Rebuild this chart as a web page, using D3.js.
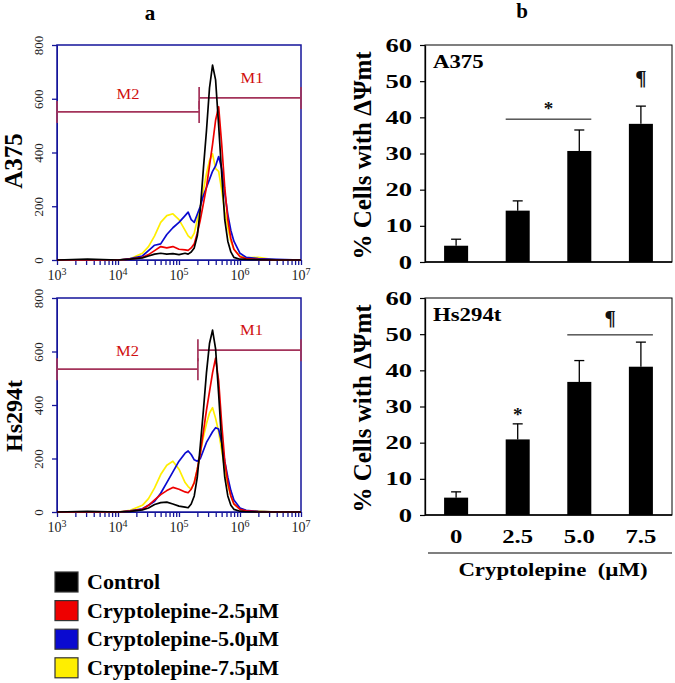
<!DOCTYPE html>
<html><head><meta charset="utf-8">
<script src="https://cdn.jsdelivr.net/npm/d3@7"></script>
<style>body{margin:0;background:#fff}svg{display:block}text{font-family:"Liberation Serif","Times New Roman",Times,serif}</style>
</head><body>
<svg id="c" width="675" height="683"></svg>
<script>
// ---------- DATA ----------
// histogram bins: log10 of fluorescence intensity
const binLog = [3.0,3.5,4.0,4.2,4.4,4.5,4.6,4.7,4.8,4.9,5.0,5.1,5.15,5.2,5.25,5.3,5.35,5.4,5.45,5.5,5.55,5.6,5.65,5.7,5.75,5.8,5.85,5.9,6.0,6.1,6.3,6.6,7.0];
const a375Control = [0,3,0,3,8,15,22,25,22,24,20,25,22,30,45,90,190,340,480,640,725,670,500,320,150,70,30,10,3,2,1,0,0];
const a375Cryp25  = [0,0,0,3,10,20,35,50,45,50,40,38,36,45,60,100,150,210,270,350,430,520,570,430,270,150,80,40,12,5,2,0,0];
const a375Cryp50  = [0,0,0,5,15,35,55,60,95,120,140,165,178,150,140,170,200,240,270,300,330,350,385,340,250,170,110,70,25,10,5,2,0];
const a375Cryp75  = [0,0,0,5,25,50,90,140,165,172,150,110,90,80,100,150,200,260,320,370,395,340,330,260,180,120,70,40,15,8,10,0,0];
const hsControl   = [0,2,0,2,8,15,28,35,37,30,22,18,16,30,60,130,250,380,520,630,680,610,440,260,130,60,25,10,3,1,0,0,0];
const hsCryp25    = [0,0,0,3,10,25,45,65,80,92,85,75,72,85,110,160,220,300,380,450,520,575,490,330,190,110,60,30,10,4,1,0,0];
const hsCryp50    = [0,0,0,4,12,25,40,70,110,150,190,220,228,215,195,190,200,230,260,280,300,315,310,260,190,130,80,45,15,6,2,0,0];
const hsCryp75    = [0,0,0,6,25,50,90,140,175,190,160,110,95,85,110,160,220,280,330,370,390,350,300,230,160,100,60,30,12,5,3,0,0];
const histYTicks = [0,200,400,600,800];
const histXDecades = [3,4,5,6,7];
// gates (M2 / M1) : [start log10, end log10, level]
const a375Gates = [{name:"M2", from:3.0, to:5.33, level:551},{name:"M1", from:5.33, to:7.0, level:603}];
const hsGates   = [{name:"M2", from:3.0, to:5.31, level:534},{name:"M1", from:5.31, to:7.0, level:605}];

const seriesNames = ["Control","Cryptolepine-2.5\u00b5M","Cryptolepine-5.0\u00b5M","Cryptolepine-7.5\u00b5M"];
const seriesColors = ["#000000","#ee0000","#0a0ad0","#ffee00"];

// bar chart
const doses = ["0","2.5","5.0","7.5"];
const a375Mean = [4.5,14.2,30.7,38.2];
const a375Err  = [1.8,2.7,5.8,4.9];
const hsMean   = [4.8,20.9,36.8,41.0];
const hsErr    = [1.6,4.3,5.9,6.8];
const barYTicks = [0,10,20,30,40,50,60];
const a375Sig = [{from:"2.5", to:"5.0", line:39.5, mark:"*", markAt:42.5},{from:"7.5", to:"7.5", line:null, mark:"\u00b6", markAt:51}];
const hsSig   = [{from:"2.5", to:"2.5", line:null, mark:"*", markAt:27.8},{from:"5.0", to:"7.5", line:49.8, mark:"\u00b6", markAt:54.5}];

// ---------- DRAW ----------
const svg = d3.select("#c");
const NAVY = "#15159a";
const GATE = "#a3335a";

function stretch(sel, k){ sel.each(function(){ const w=this.getComputedTextLength(); d3.select(this).attr("textLength", w*k).attr("lengthAdjust","spacingAndGlyphs"); }); }

svg.append("text").attr("x",150).attr("y",20).attr("text-anchor","middle")
  .style("font-weight","bold").style("font-size","21px").text("a");
svg.append("text").attr("x",522).attr("y",18).attr("text-anchor","middle")
  .style("font-weight","bold").style("font-size","21px").text("b");

function histogram(top, bottom, series, gates, label, labelY, labelSize){
  const x = d3.scaleLog().domain([1e3,1e7]).range([57,301]);
  const y = d3.scaleLinear().domain([0,800]).range([bottom, top]);
  const g = svg.append("g");
  const tv = [];
  for (let d=3; d<7; d++) for (let k=1; k<10; k++) tv.push(k*Math.pow(10,d));
  tv.push(1e7);
  const xa = g.append("g").attr("transform",`translate(0,${bottom})`)
    .call(d3.axisBottom(x).tickValues(tv).tickFormat("").tickSize(5).tickSizeOuter(0));
  xa.selectAll("line").attr("stroke",NAVY).attr("stroke-width",1.3);
  xa.select(".domain").attr("stroke",NAVY);
  histXDecades.forEach(d=>{
    const t = g.append("text").attr("x",x(Math.pow(10,d))).attr("y",bottom+20).attr("text-anchor","middle")
      .style("font-size","14px").attr("fill","#222");
    t.append("tspan").text("10");
    t.append("tspan").attr("dy",-5).style("font-size","10px").text(String(d));
  });
  const ya = g.append("g").attr("transform","translate(57,0)")
    .call(d3.axisLeft(y).tickValues(histYTicks).tickSize(5).tickSizeOuter(0));
  ya.attr("font-family",null);
  ya.selectAll("line").attr("stroke",NAVY).attr("stroke-width",1.3);
  ya.select(".domain").attr("stroke",NAVY);
  ya.selectAll("text").attr("transform","rotate(-90)").attr("x",0).attr("y",-14).attr("dy",0)
    .style("text-anchor","middle").style("font-size","13px").attr("fill","#222");
  g.append("rect").attr("x",57).attr("y",top).attr("width",301-57).attr("height",bottom-top)
    .attr("fill","none").attr("stroke",NAVY).attr("stroke-width",1.5);
  gates.forEach(gt=>{
    const x0=x(Math.pow(10,gt.from)), x1=x(Math.pow(10,gt.to)), yy=y(gt.level);
    g.append("line").attr("x1",x0).attr("x2",x1).attr("y1",yy).attr("y2",yy).attr("stroke",GATE).attr("stroke-width",1.7);
    [x0,x1].forEach(xx=>g.append("line").attr("x1",xx).attr("x2",xx).attr("y1",yy-11).attr("y2",yy+11).attr("stroke",GATE).attr("stroke-width",1.7));
    const t=g.append("text").attr("x",(x0+x1)/2 + (gt.name==="M1"?2:0)).attr("y",yy-(gt.name==="M1"?15:13)).attr("text-anchor","middle")
      .style("font-size","15px").attr("fill","#d01010").text(gt.name);
    stretch(t,1.1);
  });
  const line = d3.line().x((d,i)=>x(Math.pow(10,binLog[i]))).y(d=>y(d));
  [3,2,1,0].forEach(si=>{
    g.append("path").datum(series[si]).attr("d",line).attr("fill","none")
      .attr("stroke",seriesColors[si]).attr("stroke-width",1.7).attr("stroke-linejoin","round");
  });
  svg.append("text").attr("transform",`translate(22,${labelY}) rotate(-90)`).attr("text-anchor","middle")
    .style("font-weight","bold").style("font-size",labelSize+"px").text(label);
}
histogram(45,260,[a375Control,a375Cryp25,a375Cryp50,a375Cryp75],a375Gates,"A375",161,25);
histogram(298,512,[hsControl,hsCryp25,hsCryp50,hsCryp75],hsGates,"Hs294t",416,24);

function bars(top, bottom, means, errs, sig, label, showX){
  const x = d3.scaleBand().domain(doses).range([425,672]).paddingInner(0.61).paddingOuter(0.31);
  const y = d3.scaleLinear().domain([0,60]).range([bottom, top]);
  const g = svg.append("g");
  g.append("rect").attr("x",425).attr("y",top).attr("width",672-425).attr("height",bottom-top)
    .attr("fill","none").attr("stroke","#000").attr("stroke-width",1);
  const ya = g.append("g").attr("transform","translate(425,0)")
    .call(d3.axisLeft(y).tickValues(barYTicks).tickSize(5).tickSizeOuter(0));
  ya.attr("font-family",null);
  ya.select(".domain").attr("stroke","#000").attr("stroke-width",1.3);
  ya.selectAll("line").attr("stroke","#000").attr("stroke-width",1.2);
  ya.selectAll("text").attr("x",-13).style("font-weight","bold").style("font-size","19px").attr("fill","#000");
  stretch(ya.selectAll("text"),1.4);
  g.append("line").attr("x1",425).attr("x2",672).attr("y1",bottom).attr("y2",bottom).attr("stroke","#000").attr("stroke-width",1.3);
  doses.forEach((d,i)=>{
    const cx = x(d)+x.bandwidth()/2;
    g.append("line").attr("x1",cx).attr("x2",cx).attr("y1",y(means[i])).attr("y2",y(means[i]+errs[i])).attr("stroke","#000").attr("stroke-width",1.3);
    g.append("line").attr("x1",cx-5).attr("x2",cx+5).attr("y1",y(means[i]+errs[i])).attr("y2",y(means[i]+errs[i])).attr("stroke","#000").attr("stroke-width",1.3);
  });
  g.selectAll("rect.bar").data(means).join("rect").attr("class","bar")
    .attr("x",(d,i)=>x(doses[i])).attr("width",x.bandwidth())
    .attr("y",d=>y(d)).attr("height",d=>bottom-y(d)).attr("fill","#000");
  sig.forEach(s=>{
    const x0 = x(s.from), x1 = x(s.to)+x.bandwidth();
    if (s.line!==null) g.append("line").attr("x1",x0).attr("x2",x1).attr("y1",y(s.line)).attr("y2",y(s.line)).attr("stroke","#000").attr("stroke-width",1);
    g.append("text").attr("x",(x0+x1)/2).attr("y",y(s.markAt)).attr("dy","0.35em").attr("text-anchor","middle")
      .style("font-weight","bold").style("font-size", s.mark==="*"?"19px":"21px").attr("fill","#111").text(s.mark);
  });
  const lt = g.append("text").attr("x",433).attr("y",top+23).style("font-weight","bold").style("font-size","19px").text(label);
  stretch(lt,1.2);
  svg.append("text").attr("transform",`translate(371,${(top+bottom)/2+2}) rotate(-90)`).attr("text-anchor","middle")
    .style("font-weight","bold").style("font-size","25px").text("% Cells with \u0394\u03a8mt");
  if (showX){
    const xt = g.selectAll("text.xl").data(doses).join("text").attr("class","xl")
      .attr("x",d=>x(d)+x.bandwidth()/2).attr("y",bottom+28).attr("text-anchor","middle")
      .style("font-weight","bold").style("font-size","19px").text(d=>d);
    stretch(xt,1.3);
    g.append("line").attr("x1",428).attr("x2",672).attr("y1",bottom+38).attr("y2",bottom+38).attr("stroke","#000").attr("stroke-width",1.2);
    const ct = g.append("text").attr("x",553).attr("y",bottom+61).attr("text-anchor","middle")
      .style("font-weight","bold").style("font-size","19px").style("white-space","pre").text("Cryptolepine  (\u00b5M)");
    stretch(ct,1.2);
  }
}
bars(45,262,a375Mean,a375Err,a375Sig,"A375",false);
bars(298,515,hsMean,hsErr,hsSig,"Hs294t",true);

const lg = svg.append("g");
seriesNames.forEach((n,i)=>{
  const yy = 572 + i*28.6;
  lg.append("rect").attr("x",55).attr("y",yy).attr("width",23).attr("height",20)
    .attr("fill",seriesColors[i]).attr("stroke","#333").attr("stroke-width",1.2);
  const t = lg.append("text").attr("x",87).attr("y",yy+17).style("font-weight","bold")
    .style("font-size","21px").text(n);
  stretch(t,1.05);
});
</script>
</body></html>
